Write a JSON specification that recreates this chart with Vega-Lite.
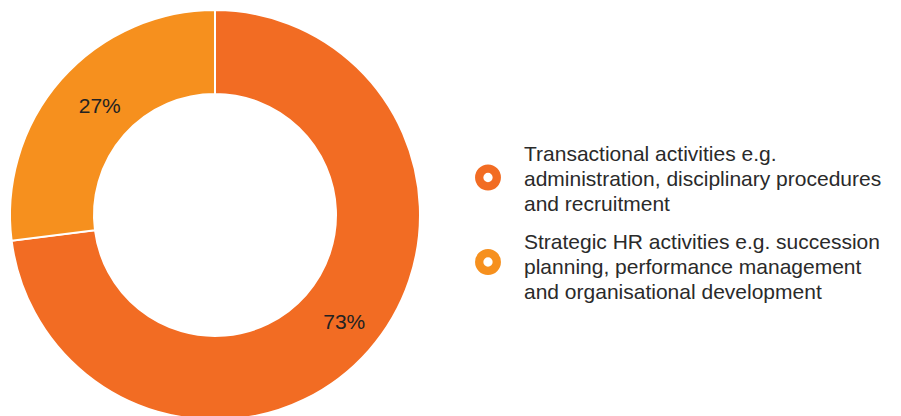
{
  "$schema": "https://vega.github.io/schema/vega-lite/v6.json",
  "padding": 0,
  "background": "white",
  "spacing": 0,
  "config": {"view": {"stroke": null}, "font": "Liberation Sans"},
  "datasets": {
    "shares": [
      {"category": "Transactional activities e.g.|administration, disciplinary procedures|and recruitment", "share": 73, "label": "73%", "idx": 1},
      {"category": "Strategic HR activities e.g. succession|planning, performance management|and organisational development", "share": 27, "label": "27%", "idx": 2}
    ]
  },
  "hconcat": [
    {
      "width": 430,
      "height": 430,
      "data": {"name": "shares"},
      "encoding": {
        "theta": {"field": "share", "type": "quantitative", "stack": true},
        "order": {"field": "idx", "type": "quantitative"}
      },
      "layer": [
        {
          "mark": {"type": "arc", "outerRadius": 205, "innerRadius": 121, "stroke": "white", "strokeWidth": 2},
          "encoding": {
            "fill": {
              "field": "category",
              "type": "nominal",
              "sort": null,
              "scale": {
                "domain": [
                  "Transactional activities e.g.|administration, disciplinary procedures|and recruitment",
                  "Strategic HR activities e.g. succession|planning, performance management|and organisational development"
                ],
                "range": ["#F26C23", "#F6901E"]
              },
              "legend": null
            }
          }
        },
        {
          "mark": {"type": "text", "radius": 163, "dx": 7, "fontSize": 21, "color": "#222222", "font": "Liberation Sans"},
          "encoding": {"text": {"field": "label"}}
        }
      ]
    },
    {
      "width": 116,
      "height": 430,
      "data": {"name": "shares"},
      "layer": [
        {
          "mark": {"type": "point", "shape": "circle", "filled": true, "fill": "white", "size": 310, "strokeWidth": 8.3, "opacity": 1},
          "encoding": {
            "y": {
              "field": "category",
              "type": "nominal",
              "sort": null,
              "axis": null,
              "scale": {
                "domain": [
                  "Transactional activities e.g.|administration, disciplinary procedures|and recruitment",
                  "Strategic HR activities e.g. succession|planning, performance management|and organisational development"
                ],
                "range": [177.5, 262],
                "padding": 0
              }
            },
            "stroke": {
              "field": "category",
              "type": "nominal",
              "sort": null,
              "scale": {
                "domain": [
                  "Transactional activities e.g.|administration, disciplinary procedures|and recruitment",
                  "Strategic HR activities e.g. succession|planning, performance management|and organisational development"
                ],
                "range": ["#F26C23", "#F6901E"]
              },
              "legend": null
            }
          }
        },
        {
          "mark": {"type": "text", "align": "left", "baseline": "middle", "dx": 36, "dy": -25, "lineBreak": "|", "lineHeight": 25, "fontSize": 21, "color": "#2a2a2a", "font": "Liberation Sans"},
          "encoding": {
            "y": {
              "field": "category",
              "type": "nominal",
              "sort": null,
              "axis": null,
              "scale": {
                "domain": [
                  "Transactional activities e.g.|administration, disciplinary procedures|and recruitment",
                  "Strategic HR activities e.g. succession|planning, performance management|and organisational development"
                ],
                "range": [180, 268],
                "padding": 0
              }
            },
            "text": {"field": "category"}
          }
        }
      ],
      "resolve": {"scale": {"y": "independent"}}
    }
  ]
}
